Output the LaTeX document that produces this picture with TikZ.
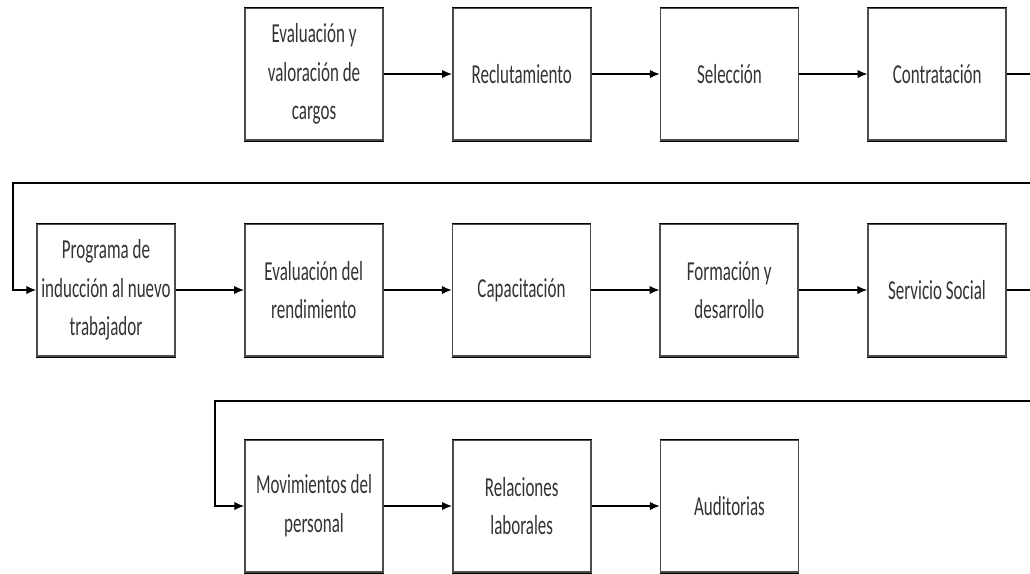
\documentclass[tikz,border=0pt]{standalone}
\usepackage{fontspec}
\setmainfont[FakeStretch=0.62]{Carlito}
\usepackage{tikz}
\usetikzlibrary{arrows}
\usetikzlibrary{arrows,arrows.meta,positioning}

\tikzset{
  etapa/.style={draw=black!70, line width=1.2pt, fill=white, minimum width=3.45cm,
    minimum height=3.3cm, align=center, text=black!80,
    font=\fontsize{19.5pt}{27.5pt}\selectfont, inner sep=1pt,
    append after command={[line width=2.2pt, draw=black]
      (\tikzlastnode.north west) edge (\tikzlastnode.north east)
      (\tikzlastnode.south west) edge (\tikzlastnode.south east)}},
  flecha/.style={-{Latex[length=7pt,width=6pt]}, line width=0.9pt},
  linea/.style={line width=0.9pt}
}

\begin{document}
\begin{tikzpicture}[x=0.025cm, y=-0.025cm, node distance=1.7cm]
    \useasboundingbox (0,0) rectangle (1030,573);
    % primera fila
    \node[etapa] (evaluacion) at (314,74) {Evaluación y\\valoración de\\cargos};
    \node[etapa, right=of evaluacion] (reclutamiento) {Reclutamiento};
    \node[etapa, right=of reclutamiento] (seleccion) {Selección};
    \node[etapa, right=of seleccion] (contratacion) {Contratación};
    % segunda fila
    \node[etapa] (induccion) at (106,290) {Programa de\\inducción al nuevo\\trabajador};
    \node[etapa, right=of induccion] (rendimiento) {Evaluación del\\rendimiento};
    \node[etapa, right=of rendimiento] (capacitacion) {Capacitación};
    \node[etapa, right=of capacitacion] (formacion) {Formación y\\desarrollo};
    \node[etapa, right=of formacion] (servicio) {Servicio Social};
    % tercera fila
    \node[etapa] (movimientos) at (314,506) {Movimientos del\\personal};
    \node[etapa, right=of movimientos] (relaciones) {Relaciones\\laborales};
    \node[etapa, right=of relaciones] (auditorias) {Auditorias};

    \coordinate (salida1) at (1030,74);
    \coordinate (retorno1) at (1030,183);
    \coordinate (giro1) at (13,183);
    \coordinate (salida2) at (1030,290);
    \coordinate (retorno2) at (1030,401);
    \coordinate (giro2) at (215,401);

    \draw[flecha] (evaluacion) -- (reclutamiento);
    \draw[flecha] (reclutamiento) -- (seleccion);
    \draw[flecha] (seleccion) -- (contratacion);
    \draw[linea] (contratacion) -- (salida1);
    \draw[flecha] (retorno1) -- (giro1) |- (induccion.west);
    \draw[flecha] (induccion) -- (rendimiento);
    \draw[flecha] (rendimiento) -- (capacitacion);
    \draw[flecha] (capacitacion) -- (formacion);
    \draw[flecha] (formacion) -- (servicio);
    \draw[linea] (servicio) -- (salida2);
    \draw[flecha] (retorno2) -- (giro2) |- (movimientos.west);
    \draw[flecha] (movimientos) -- (relaciones);
    \draw[flecha] (relaciones) -- (auditorias);
  \end{tikzpicture}
\end{document}
